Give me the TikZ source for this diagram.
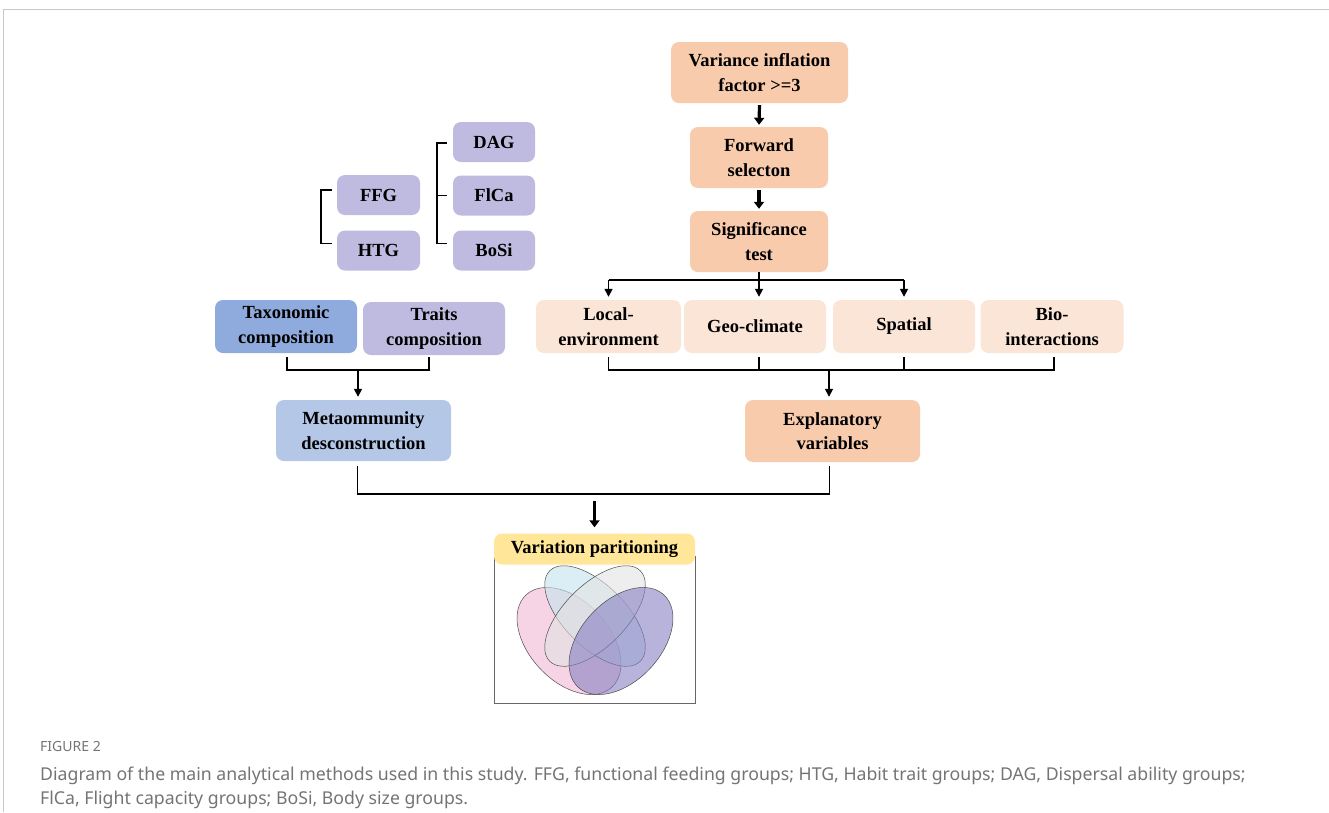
\documentclass[tikz,border=0pt]{standalone}
\usepackage{fontspec}
\setmainfont{Liberation Serif}
\newfontfamily\capfont{Noto Sans}
\usetikzlibrary{arrows.meta,calc}
\definecolor{peach}{HTML}{F8CBAD}
\definecolor{lpeach}{HTML}{FBE5D6}
\definecolor{tblue}{HTML}{8FAADC}
\definecolor{mblue}{HTML}{B4C7E7}
\definecolor{lav}{HTML}{BFBBE0}
\definecolor{ylw}{HTML}{FFE699}
\definecolor{capgray}{HTML}{747474}
\definecolor{framegray}{HTML}{C8C8C8}
\definecolor{vpink}{RGB}{240,182,212}
\definecolor{vblue}{RGB}{197,227,238}
\definecolor{vgray}{RGB}{226,226,226}
\definecolor{vpurp}{RGB}{135,128,195}
\begin{document}
\begin{tikzpicture}[x=1pt,y=-1pt,
  box/.style={rounded corners=8pt, inner sep=0pt, align=center,
    font=\fontsize{18.5}{24.5}\selectfont\bfseries},
  ln/.style={line width=1.6pt, black},
  sarr/.style={line width=1.6pt, -{Triangle[width=8pt,length=8pt]}},
  barr/.style={line width=3.2pt, -{Triangle[width=10pt,length=7pt]}},
  venn/.style={draw=black!70, line width=0.5pt, fill opacity=0.6}]
\useasboundingbox (0,0) rectangle (1329,812);
\draw[framegray, line width=1pt] (3,812) -- (3,9) -- (1329,9);

% right column
\node[box, fill=peach, minimum width=177pt, minimum height=61pt] (vif) at (759.5,72.5) {Variance inflation\\factor >=3};
\node[box, fill=peach, minimum width=138pt, minimum height=61pt] (fwd) at (759,157.5) {Forward\\selecton};
\node[box, fill=peach, minimum width=138pt, minimum height=61pt] (sig) at (759,241.5) {Significance\\test};
\draw[barr] ($(vif.south)+(0,2)$) -- ($(fwd.north)+(0,-2)$);
\draw[barr] ($(fwd.south)+(0,2)$) -- ($(sig.north)+(0,-2)$);

\node[box, fill=lpeach, minimum width=145pt, minimum height=53pt] (local) at (608.5,326.5) {Local-\\environment};
\node[box, fill=lpeach, minimum width=142pt, minimum height=53pt] (geo) at (755,326.5) {Geo-climate};
\node[box, fill=lpeach, minimum width=142pt, minimum height=53pt] (spat) at (904,326.5) {Spatial};
\node[box, fill=lpeach, minimum width=143pt, minimum height=53pt] (bio) at (1052,326.5) {Bio-\\interactions};

\coordinate (sj) at ($(sig.south)+(0,8)$);
\draw[ln] (sig.south) -- (sj);
\draw[ln] (local.north |- sj) -- (spat.north |- sj);
\draw[sarr] (local.north |- sj) -- ($(local.north)+(0,-3)$);
\draw[sarr] (sj) -- ($(sj |- geo.north)+(0,-3)$);
\draw[sarr] (spat.north |- sj) -- ($(spat.north)+(0,-3)$);

\node[box, fill=peach, minimum width=175pt, minimum height=62pt] (expl) at (832.5,431) {Explanatory\\variables};
\coordinate (bj) at (829,370);
\draw[ln] ($(local.south)+(0,4)$) -- (local.south |- bj) -- ($(bio.south |- bj)+(2,0)$) -- ($(bio.south)+(2,4)$);
\draw[ln] ($(sj |- geo.south)+(0,4)$) -- (sj |- bj);
\draw[ln] ($(spat.south)+(0,4)$) -- (spat.south |- bj);
\draw[sarr] (bj) -- ($(bj |- expl.north)+(0,-3)$);

% left column
\node[box, fill=lav, minimum width=83pt, minimum height=40pt] (ffg) at (378.5,195) {FFG};
\node[box, fill=lav, minimum width=83pt, minimum height=40pt] (htg) at (378.5,250.5) {HTG};
\node[box, fill=lav, minimum width=82pt, minimum height=40pt] (dag) at (494,142) {DAG};
\node[box, fill=lav, minimum width=82pt, minimum height=40pt] (flca) at (494,195.5) {FlCa};
\node[box, fill=lav, minimum width=82pt, minimum height=40pt] (bosi) at (494,250.5) {BoSi};
\draw[ln] ($(ffg.west)+(-5,-5)$) -- ($(ffg.west)+(-16,-5)$) -- ($(htg.west)+(-16,-7)$) -- ($(htg.west)+(-5,-7)$);
\draw[ln] ($(dag.west)+(-6,1)$) -- ($(dag.west)+(-16,1)$) -- ($(bosi.west)+(-16,-7)$) -- ($(bosi.west)+(-6,-7)$);
\draw[ln] ($(flca.west)+(-16,0)$) -- ($(flca.west)+(-6,0)$);

\node[box, fill=tblue, minimum width=142pt, minimum height=53pt] (taxo) at (286,326.5) {Taxonomic\\composition};
\node[box, fill=lav, minimum width=142pt, minimum height=53pt] (trait) at (434,328.5) {Traits\\composition};
\node[box, fill=mblue, minimum width=175pt, minimum height=61pt] (meta) at (363.5,430.5) {Metaommunity\\desconstruction};
\coordinate (tj) at (358,370);
\draw[ln] ($(taxo.south)+(1,4)$) -- ($(taxo.south |- tj)+(1,0)$) -- ($(trait.south |- tj)+(-5,0)$) -- ($(trait.south)+(-5,2)$);
\draw[sarr] (tj) -- ($(tj |- meta.north)+(0,-3)$);

% bottom
\coordinate (mj) at (595,494);
\draw[ln] ($(meta.south)+(-6,5)$) -- ($(meta.south |- mj)+(-6,0)$) -- ($(expl.south |- mj)+(-3,0)$) -- ($(expl.south)+(-3,4)$);

\node[draw=black!60, line width=0.8pt, minimum width=201pt, minimum height=147pt, inner sep=0pt] (frame) at (594.5,629.5) {};
\node[box, fill=ylw, minimum width=201pt, minimum height=31pt] (varp) at (594.5,549) {Variation paritioning};
\draw[barr] ($(varp.north)+(0,-32)$) -- ($(varp.north)+(0,-6)$);

\draw[venn, fill=vpink] (569,641) ellipse [x radius=63pt, y radius=40pt, rotate=-47];
\draw[venn, fill=vblue] (595,616) ellipse [x radius=64pt, y radius=31pt, rotate=-45];
\draw[venn, fill=vgray] (595,616) ellipse [x radius=64pt, y radius=31pt, rotate=45];
\draw[venn, fill=vpurp] (621,641) ellipse [x radius=63pt, y radius=40pt, rotate=47];

% caption
\node[anchor=base west, inner sep=0pt, text=capgray, font=\capfont\fontsize{14}{16}\selectfont] (fig) at (40,751) {FIGURE 2};
\node[anchor=base west, inner sep=0pt, text=capgray, font=\capfont\fontsize{17.7}{21}\selectfont] (cap1) at (40,780) {Diagram of the main analytical methods used in this study. FFG, functional feeding groups; HTG, Habit trait groups; DAG, Dispersal ability groups;};
\node[anchor=base west, inner sep=0pt, text=capgray, font=\capfont\fontsize{17.7}{21}\selectfont] (cap2) at (40,804) {FlCa, Flight capacity groups; BoSi, Body size groups.};
\end{tikzpicture}
\end{document}
